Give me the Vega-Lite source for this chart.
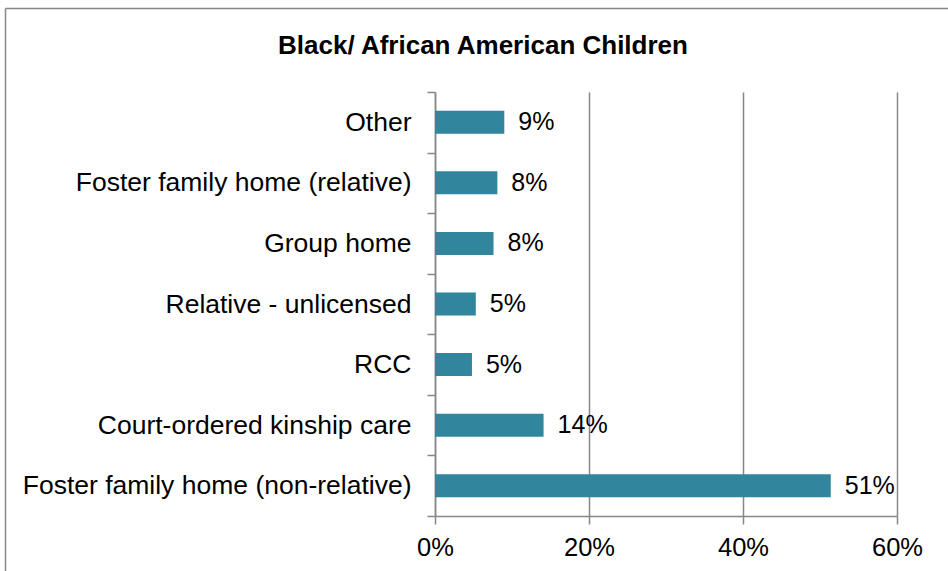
{
  "$schema": "https://vega.github.io/schema/vega-lite/v6.json",
  "width": 462,
  "height": 424,
  "autosize": {"type": "none"},
  "padding": {"left": 435, "top": 92, "right": 51, "bottom": 55},
  "background": "white",
  "config": {
    "font": "Liberation Sans",
    "view": {"stroke": null}
  },
  "title": {
    "text": "Black/ African American Children",
    "font": "Liberation Sans",
    "fontSize": 26,
    "fontWeight": "bold",
    "color": "black",
    "anchor": "middle",
    "frame": "group",
    "baseline": "middle",
    "offset": -64,
    "dx": -183
  },
  "data": {
    "values": [
      {"placement": "Other", "share": 0.090},
      {"placement": "Foster family home (relative)", "share": 0.081},
      {"placement": "Group home", "share": 0.076},
      {"placement": "Relative - unlicensed", "share": 0.053},
      {"placement": "RCC", "share": 0.048},
      {"placement": "Court-ordered kinship care", "share": 0.141},
      {"placement": "Foster family home (non-relative)", "share": 0.514}
    ]
  },
  "layer": [
    {
      "encoding": {
        "y": {
          "field": "placement",
          "type": "nominal",
          "sort": null,
          "scale": {"type": "band", "paddingInner": 0, "paddingOuter": 0},
          "axis": {
            "orient": "left",
            "title": null,
            "tickBand": "extent",
            "tickSize": 8,
            "tickColor": "#878787",
            "tickWidth": 1.5,
            "domainColor": "#878787",
            "domainWidth": 1.5,
            "labelFontSize": 26.5,
            "labelColor": "black",
            "labelPadding": 16,
            "labelLimit": 500,
            "grid": false
          }
        },
        "x": {
          "field": "share",
          "type": "quantitative",
          "scale": {"domain": [0, 0.6], "nice": false},
          "axis": {
            "orient": "bottom",
            "title": null,
            "values": [0, 0.2, 0.4, 0.6],
            "format": ".0%",
            "labelFlush": false,
            "grid": true,
            "gridColor": "#878787",
            "gridWidth": 1.5,
            "tickSize": 8,
            "tickColor": "#878787",
            "tickWidth": 1.5,
            "domainColor": "#878787",
            "domainWidth": 1.5,
            "labelFontSize": 25.5,
            "labelColor": "black",
            "labelPadding": 11
          }
        }
      },
      "layer": [
        {"mark": {"type": "bar", "color": "#31859C", "height": {"band": 0.38}}},
        {
          "mark": {"type": "text", "align": "left", "baseline": "middle", "dx": 14, "fontSize": 25, "color": "black"},
          "encoding": {"text": {"field": "share", "type": "quantitative", "format": ".0%"}}
        }
      ]
    },
    {
      "mark": {"type": "point", "opacity": 0},
      "encoding": {
        "x": {
          "field": "share",
          "type": "quantitative",
          "scale": {"domain": [0, 1], "range": [-430, 513]},
          "axis": {"orient": "top", "offset": 84, "title": null, "labels": false, "ticks": false, "grid": false, "domainColor": "#878787", "domainWidth": 1.5}
        },
        "y": {
          "field": "share",
          "type": "quantitative",
          "scale": {"domain": [0, 1], "range": [479, -84]},
          "axis": {"orient": "left", "offset": 430, "title": null, "labels": false, "ticks": false, "grid": false, "domainColor": "#878787", "domainWidth": 1.5}
        }
      }
    }
  ],
  "resolve": {"scale": {"x": "independent", "y": "independent"}, "axis": {"x": "independent", "y": "independent"}}
}
